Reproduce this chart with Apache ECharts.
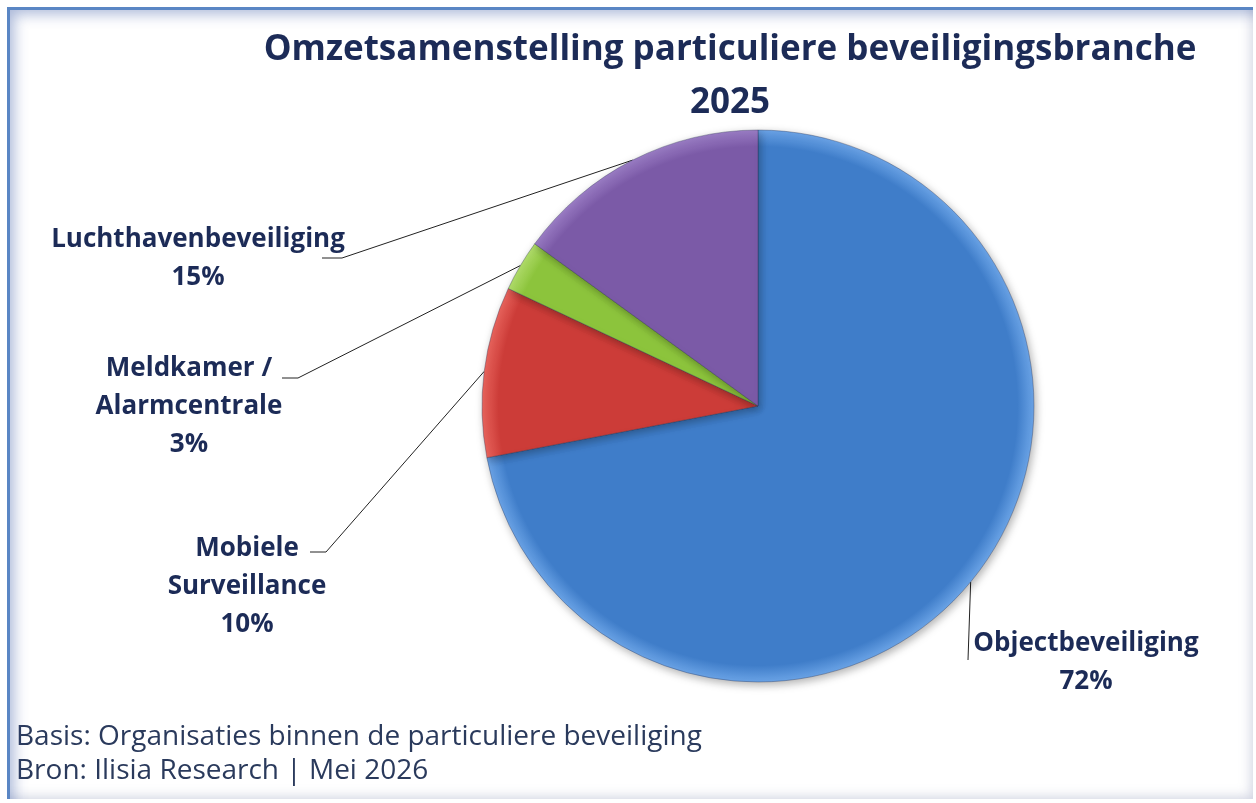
<!DOCTYPE html>
<html>
<head>
<meta charset="utf-8">
<script src="https://cdn.jsdelivr.net/npm/echarts@6/dist/echarts.min.js"></script>
<style>
  html, body { margin: 0; padding: 0; background: #fff; }
  #wrap { position: relative; width: 1256px; height: 803px; overflow: hidden; }
  #frame {
    position: absolute; left: 7px; top: 7px; width: 1246px; height: 792px;
    border-top: 3px solid #5a86c4; border-left: 3px solid #5a86c4;
    box-shadow: inset 10px 10px 14px -6px rgba(70, 100, 170, 0.45), inset -8px -8px 12px -6px rgba(120, 130, 170, 0.35);
    pointer-events: none; box-sizing: border-box;
  }
  #chart { position: absolute; left: 0; top: 0; width: 1256px; height: 803px; }
</style>
</head>
<body>
<div id="wrap">
  <div id="chart"></div>
  <div id="frame"></div>
</div>
<script>
  // data
  var categories = ['Objectbeveiliging', 'Mobiele\nSurveillance', 'Meldkamer /\nAlarmcentrale', 'Luchthavenbeveiliging'];
  var values = [72, 10, 3, 15];
  var colors = ['#3f7dc9', '#cc3c38', '#8cc43c', '#7b5aa7'];
  var lightColors = ['#6aa3e6', '#e8635c', '#b0dc6a', '#9a7cc4'];

  // label placement (center x, top y) and where the leader line meets the text
  var labelPos = [
    { x: 1086, y: 625, end: [[968, 660]] },
    { x: 247, y: 530, end: [[326, 552], [310, 552]] },
    { x: 189, y: 350, end: [[298, 378], [282, 378]] },
    { x: 198, y: 221, end: [[342, 258], [322, 258]] }
  ];

  var pieCenter = [758, 406];
  var pieRadius = 276;
  var textColor = '#1c2b57';

  var chart = echarts.init(document.getElementById('chart'));

  var data = categories.map(function (name, i) {
    return {
      name: name,
      value: values[i],
      itemStyle: {
        color: {
          type: 'radial', x: pieCenter[0], y: pieCenter[1], r: pieRadius, global: true,
          colorStops: [
            { offset: 0, color: colors[i] },
            { offset: 0.94, color: colors[i] },
            { offset: 1, color: lightColors[i] }
          ]
        }
      }
    };
  });

  var option = {
    backgroundColor: '#ffffff',
    title: [
      {
        text: 'Omzetsamenstelling particuliere beveiligingsbranche\n2025',
        left: 725,
        top: 19,
        textAlign: 'center',
        textStyle: {
          fontFamily: 'Open Sans',
          fontWeight: 'bold',
          fontSize: 35,
          lineHeight: 53,
          color: textColor
        }
      },
      {
        text: 'Basis: Organisaties binnen de particuliere beveiliging\nBron: Ilisia Research | Mei 2026',
        left: 11,
        top: 715,
        textStyle: {
          fontFamily: 'Open Sans',
          fontWeight: 'normal',
          fontSize: 28,
          lineHeight: 34,
          color: '#2a3a5c'
        }
      }
    ],
    series: [
      {
        type: 'pie',
        center: pieCenter,
        radius: pieRadius,
        startAngle: 90,
        clockwise: true,
        data: data,
        itemStyle: {
          borderColor: 'rgba(40,50,80,0.35)',
          borderWidth: 1,
          shadowBlur: 8,
          shadowOffsetX: 2,
          shadowOffsetY: 3,
          shadowColor: 'rgba(0,0,0,0.3)'
        },
        label: {
          show: true,
          formatter: '{b}\n{d}%',
          fontFamily: 'Open Sans',
          fontWeight: 'bold',
          fontSize: 26,
          lineHeight: 38,
          color: textColor,
          align: 'center'
        },
        labelLine: {
          show: true,
          length: 10,
          length2: 10,
          lineStyle: { color: '#222', width: 1 }
        },
        labelLayout: function (params) {
          var p = labelPos[params.dataIndex];
          var start = params.labelLinePoints ? params.labelLinePoints[0] : null;
          var res = { x: p.x, y: p.y, align: 'center', verticalAlign: 'top' };
          if (start) {
            res.labelLinePoints = [start].concat(p.end);
          }
          return res;
        },
        emphasis: { disabled: true },
        animation: false
      }
    ]
  };

  chart.setOption(option);
  window.addEventListener('resize', function () {
    chart.resize();
  });
</script>
</body>
</html>
